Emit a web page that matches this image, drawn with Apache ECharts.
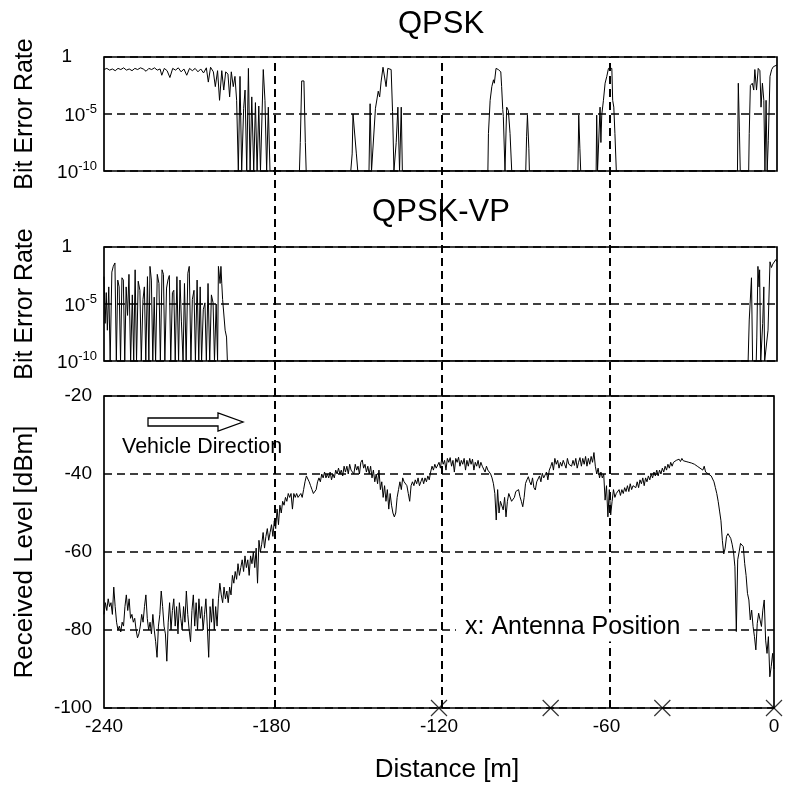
<!DOCTYPE html>
<html>
<head>
<meta charset="utf-8">
<script src="https://cdn.jsdelivr.net/npm/echarts@6/dist/echarts.min.js"></script>
<style>
  html, body { margin: 0; padding: 0; background: #fff; }
  #chart { width: 787px; height: 787px; }
</style>
</head>
<body>
<div id="chart"></div>
<script>
const FONT = '"Liberation Sans", Arial, sans-serif';

// distance axis [m]
const distanceMin = -240;
const distanceMax = 0;
const distanceInterval = 60;
// vertical guide lines [m]
const guideDistances = [-180, -120, -60];
// antenna positions along the road [m]
const antennaDistances = [-120, -80, -40, 0];

// QPSK bit error rate: [distance m, log10(BER)], -10 = no error observed
const qpskLogBer = [
  [-240,-1.1],[-239,-1.0],[-238,-1.15],[-237,-1.05],[-236,-1.2],[-235,-1.0],[-234,-1.1],[-233,-0.95],
  [-232,-1.15],[-231,-1.05],[-230,-1.2],[-229,-1.0],[-228,-1.1],[-227,-0.95],[-226,-1.05],[-225,-1.25],
  [-224,-1.0],[-223,-1.1],[-222,-0.95],[-221,-1.15],[-220,-1.05],[-219.4,-1.6],[-218.5,-1.0],[-217.5,-1.2],
  [-216.5,-1.8],[-215.5,-1.0],[-214.5,-1.15],[-213.5,-0.95],[-212.5,-1.3],[-211.5,-1.05],[-210.5,-1.6],
  [-209.5,-1.0],[-208.5,-1.2],[-207.5,-1.0],[-206.5,-1.3],[-205.5,-1.05],[-204.5,-1.4],[-203.5,-0.95],
  [-202.8,-2.2],[-202,-0.9],[-201,-1.3],[-200.3,-2.6],[-199.5,-1.2],[-198.8,-3.8],[-198,-1.2],[-197.3,-2.9],
  [-196.6,-1.3],[-195.8,-1.5],[-195.2,-3.5],[-194.6,-1.3],[-193.9,-2.6],[-193.3,-1.7],[-192.7,-3.8],
  [-192.1,-10],[-191.5,-1.7],[-190.9,-10],[-190.2,-4.5],[-189.7,-2.9],[-189.1,-10],[-188.5,-1.0],
  [-187.9,-10],[-187.3,-3.5],[-186.6,-10],[-186,-4.0],[-185.4,-10],[-184.8,-4.3],[-184.2,-10],
  [-183.2,-1.1],[-182.6,-3.8],[-182,-10],[-181.4,-4.4],[-180.8,-10],
  [-170.3,-10],[-170,-7.5],[-169.5,-2.1],[-168.7,-2.1],[-168.2,-7.5],[-167.9,-10],
  [-152,-10],[-151.5,-8.5],[-151.2,-5.0],[-150.5,-5.0],[-150,-8.5],[-149.5,-10],
  [-145.5,-10],[-145.1,-4.1],[-144.6,-10],[-144,-10],[-143.2,-4.5],[-142.6,-3.6],[-142.2,-3.0],
  [-141.7,-3.5],[-141.2,-2.2],[-140.5,-0.9],[-140,-1.0],[-139.4,-2.6],[-138.8,-1.0],[-138.2,-0.9],
  [-137.6,-1.1],[-137.1,-4.8],[-136.6,-10],[-135.8,-7.5],[-135.2,-4.4],[-134.6,-10],[-134,-4.4],[-133.6,-10],
  [-103.1,-10],[-102.9,-6.7],[-102.3,-3.8],[-101.7,-2.6],[-101.1,-2.0],[-100.8,-2.3],[-100.2,-1.0],
  [-99.4,-1.1],[-98.5,-1.3],[-98.2,-2.6],[-97.8,-4.6],[-97.6,-5.2],[-97,-10],[-96.4,-4.4],[-95.8,-4.7],
  [-95.2,-6.7],[-94.6,-10],
  [-89.6,-10],[-89.3,-7.0],[-89,-5.1],[-88.5,-8.0],[-88.3,-10],
  [-71,-10],[-70.7,-5.1],[-70.3,-8.0],[-70,-10],
  [-64.5,-10],[-64.3,-5.1],[-64,-10],[-63.4,-10],[-63.1,-4.4],[-62.8,-7.5],[-62.5,-5.1],[-61.9,-3.8],
  [-61.3,-2.3],[-60.7,-1.7],[-60.1,-1.0],[-59.5,-1.1],[-58.9,-1.0],[-58.6,-3.8],[-58.2,-4.4],[-57.8,-6.7],
  [-57.3,-10],
  [-14.1,-10],[-13.8,-2.3],[-13.4,-6.5],[-13.1,-10],
  [-10.1,-10],[-9.9,-6.7],[-9.5,-2.5],[-8.8,-2.3],[-8.3,-2.9],[-7.9,-1.1],[-7.3,-2.9],[-6.7,-1.0],
  [-6.1,-1.2],[-5.7,-4.4],[-5.2,-2.3],[-4.7,-3.8],[-4.3,-10],[-3.9,-3.8],[-3.5,-10],[-3.1,-7.3],
  [-2.5,-1.7],[-1.9,-1.1],[-1.3,-0.85],[-0.7,-1.0],[0,-0.7]
];

// QPSK-VP bit error rate: [distance m, log10(BER)], -10 = no error observed
const vpLogBer = [
  [-240,-2.6],[-239.6,-6.7],[-239.2,-4.0],[-238.8,-7.3],[-238.3,-3.5],[-237.8,-10],[-237.2,-2.2],
  [-236.7,-1.7],[-236.1,-1.4],[-235.6,-10],[-235.1,-2.9],[-234.6,-3.5],[-234.1,-10],[-233.6,-2.7],
  [-233.1,-2.9],[-232.6,-10],[-232.1,-3.5],[-231.6,-6.0],[-231.1,-2.4],[-230.5,-10],[-229.9,-4.2],
  [-229.4,-10],[-228.9,-2.0],[-228.4,-10],[-227.8,-3.0],[-227.2,-3.8],[-226.7,-10],[-226.1,-4.6],
  [-225.6,-3.5],[-225.1,-10],[-224.5,-2.6],[-224.0,-10],[-223.6,-1.7],[-223.1,-2.9],[-222.6,-10],
  [-222.1,-4.4],[-221.6,-10],[-221.0,-2.4],[-220.4,-3.2],[-219.9,-10],[-219.3,-2.0],[-218.8,-2.4],
  [-218.3,-10],[-217.7,-3.6],[-217.2,-2.9],[-216.7,-2.5],[-216.2,-10],[-215.6,-4.0],[-215.1,-3.8],
  [-214.6,-10],[-214.0,-2.6],[-213.4,-10],[-212.9,-2.9],[-212.4,-6.5],[-211.8,-10],[-211.3,-3.2],
  [-210.7,-10],[-210.1,-2.3],[-209.6,-1.7],[-209.0,-10],[-208.5,-4.6],[-207.9,-3.8],[-207.4,-10],
  [-206.8,-2.9],[-206.2,-10],[-205.7,-3.5],[-205.2,-10],[-204.6,-5.5],[-204.0,-4.9],[-203.5,-10],
  [-202.9,-3.2],[-202.3,-10],[-201.7,-4.2],[-201.1,-4.9],[-200.6,-10],[-200.0,-5.0],[-199.5,-10],
  [-199.2,-1.7],[-198.6,-3.2],[-198.3,-1.7],[-198,-3.2],[-197.7,-4.6],[-197.2,-4.6],[-196.8,-7.3],
  [-196.3,-7.9],[-196,-10],
  [-10.3,-10],[-9.9,-6.4],[-9.1,-2.7],[-8.7,-10],[-7.4,-10],[-7.2,-7.9],[-6.8,-1.7],[-6.4,-3.5],[-6.2,-2.0],
  [-5.8,-10],[-5.1,-6.7],[-4.7,-3.5],[-4.4,-10],[-3.2,-7.3],[-2.5,-1.3],[-2,-1.8],[-1.5,-1.5],[-1,-1.4],
  [-0.4,-1.1],[0,-1.3]
];

// received level every 0.5 m from -240 m to 0 m [dBm]
const levelStart = -240;
const levelStep = 0.5;
const receivedLevel = [
  -76, -73, -75, -72, -74, -73, -76, -69, -74, -78, -80, -79, -80.5, -78, -79, -74, -71, -75, -72, -77,
  -76, -78, -77, -80, -82, -81, -79, -76, -78, -74, -71, -77, -80, -78, -81, -76, -80, -83, -87, -79,
  -76, -70, -74, -79, -81, -88, -78, -73, -80, -75, -72, -79, -74, -81, -73, -77, -80, -74, -78, -70,
  -76, -80, -83, -75, -71, -79, -73, -80, -72, -77, -74, -80, -76, -72, -79, -87, -74, -78, -72, -80,
  -74, -79, -72, -68, -71, -73, -69, -72, -70, -73, -69, -71, -66, -68, -65, -67, -63, -66, -64, -62,
  -65, -61, -64, -62, -66, -61, -63, -60, -64, -59, -68, -57, -60, -58, -55, -59, -56, -54, -57, -55,
  -53, -56, -52, -54, -49, -53, -48, -50, -47, -48, -46, -47, -45, -46, -45, -49, -45, -46, -45, -46,
  -46, -45, -46, -44, -42, -40.5, -41, -42, -43, -44, -45, -45.5, -44, -42, -41, -42, -40, -41, -39.5, -41,
  -40, -41, -39.5, -41.5, -40, -41, -39, -40, -38.5, -40, -39, -40.5, -38, -39.5, -38, -40, -37.5, -39, -38.5, -40,
  -37.5, -39, -38, -40, -37, -36.4, -38.5, -37.5, -39.5, -38, -40, -38, -41, -39, -42, -40, -42.5, -39, -44, -42,
  -46, -43, -47, -44, -49, -45, -48, -50, -51, -50, -46, -44, -42, -44, -41, -42, -41.5, -43, -45, -47,
  -43, -42, -43, -41.5, -42.5, -41, -43, -42, -41, -42.5, -41, -42, -40.5, -41.5, -39.5, -38, -39, -37.5, -38.5, -38,
  -37, -38.5, -36, -37.5, -36.5, -39, -36, -37, -35.8, -38, -36.5, -39.5, -36, -37, -35.7, -38, -36.5, -37.5, -36, -39,
  -36.5, -38, -36, -37.5, -36.2, -39, -37, -38, -36.5, -38.5, -37, -38, -37.5, -39.5, -38, -39, -38.5, -40, -41, -42.5,
  -45, -51.8, -44, -50, -47, -47.5, -49.2, -46, -51, -47, -45, -44.5, -47, -47.5, -46, -44.5, -45, -44, -45.8, -47,
  -48.4, -46, -42.4, -41.5, -40.7, -42, -42.8, -41, -43.5, -44.1, -42, -41.5, -40.5, -42, -39.8, -41, -40.7, -39.5, -41.5, -39,
  -38.1, -37, -39, -36, -37.5, -36.5, -38.5, -37, -38, -36.5, -37.5, -38.5, -36, -37.5, -37, -38, -36.5, -37.8, -36, -38.5,
  -37, -35.8, -38, -36, -37.5, -35.5, -38, -36, -37.5, -35.5, -37, -34.5, -38, -40, -38.5, -41, -39.5, -41, -40, -46.7,
  -43, -51, -44, -50.5, -47, -44, -46, -45, -45.5, -44, -45.5, -44, -45, -43.5, -44.5, -43, -44.5, -42.5, -44, -43,
  -42.5, -43.5, -42, -43.5, -41.5, -42.5, -41, -43, -41, -42, -40.5, -41.5, -40, -41, -39.5, -40.5, -39, -40.5, -39, -40,
  -38.5, -39.5, -38, -39, -37.5, -38.5, -37, -38, -37, -37.5, -36.5, -37, -36.2, -36.8, -36, -36.6, -36.2, -36.8, -36.4, -37,
  -36.6, -37.2, -36.8, -37.5, -37, -38, -37.5, -38.5, -38, -39, -38, -39.5, -39, -40, -39.5, -40.5, -41, -42, -43.5, -45,
  -47, -49.5, -52, -57, -60.5, -59, -56, -55.3, -55.8, -56.5, -58, -60, -63.8, -80.4, -62, -60, -57.8, -57.5, -58.6, -63,
  -66, -70.6, -72.3, -77.4, -74.9, -79.1, -81.7, -85.1, -78.3, -75.7, -77.4, -79.1, -74.9, -72.3, -82.6, -86, -81.7, -92, -89.4, -86,
  -90
];

const levelData = receivedLevel.map((v, i) => [levelStart + i * levelStep, v]);

const dashed = { color: '#000', width: 1.5, type: [8, 5] };
const frame = { show: true, borderColor: '#000', borderWidth: 1.7, backgroundColor: 'transparent' };

function berLabel(v) {
  if (v === 0) return '{one|1}';
  return '{b|10}{s|' + v + '}';
}
const berLabelStyle = {
  color: '#000',
  margin: 7,
  formatter: berLabel,
  rich: {
    one: { fontSize: 19, fontFamily: FONT, color: '#000', padding: [0, 25, 0, 0] },
    b: { fontSize: 19, fontFamily: FONT, color: '#000', lineHeight: 22, verticalAlign: 'bottom' },
    s: { fontSize: 13, fontFamily: FONT, color: '#000', lineHeight: 13, verticalAlign: 'top' }
  }
};

function berYAxis(gridIndex) {
  return {
    gridIndex, type: 'value', min: -10, max: 0, interval: 5,
    axisLine: { show: false }, axisTick: { show: false },
    axisLabel: berLabelStyle,
    splitLine: { show: true, lineStyle: dashed },
    name: 'Bit Error Rate', nameLocation: 'middle', nameGap: 66,
    nameTextStyle: { fontSize: 25, fontFamily: FONT, color: '#000' }
  };
}
function hiddenXAxis(gridIndex) {
  return {
    gridIndex, type: 'value', min: distanceMin, max: distanceMax,
    axisLine: { show: false }, axisTick: { show: false },
    axisLabel: { show: false }, splitLine: { show: false }
  };
}

const chart = echarts.init(document.getElementById('chart'), null, { renderer: 'canvas' });

chart.setOption({
  animation: false,
  backgroundColor: '#fff',
  textStyle: { fontFamily: FONT },
  grid: [
    Object.assign({ left: 104, top: 57, width: 673, height: 114 }, frame),
    Object.assign({ left: 104, top: 247, width: 673, height: 114 }, frame),
    Object.assign({ left: 104, top: 396, width: 670, height: 312 }, frame),
    { left: 107, top: 57, width: 670, height: 651, show: false }
  ],
  xAxis: [
    hiddenXAxis(0),
    hiddenXAxis(1),
    {
      gridIndex: 2, type: 'value', min: distanceMin, max: distanceMax, interval: distanceInterval,
      axisLine: { show: false }, axisTick: { show: false },
      axisLabel: { fontSize: 19, fontFamily: FONT, color: '#000', margin: 9 },
      splitLine: { show: false },
      name: 'Distance [m]', nameLocation: 'middle', nameGap: 49,
      nameTextStyle: { fontSize: 26, fontFamily: FONT, color: '#000', padding: [0, 0, 0, 16] }
    },
    hiddenXAxis(3)
  ],
  yAxis: [
    berYAxis(0),
    berYAxis(1),
    {
      gridIndex: 2, type: 'value', min: -100, max: -20, interval: 20,
      axisLine: { show: false }, axisTick: { show: false },
      axisLabel: { fontSize: 19, fontFamily: FONT, color: '#000', margin: 12 },
      splitLine: { show: true, lineStyle: dashed },
      name: 'Received Level [dBm]', nameLocation: 'middle', nameGap: 66,
      nameTextStyle: { fontSize: 26, fontFamily: FONT, color: '#000' }
    },
    {
      gridIndex: 3, type: 'value', min: 0, max: 1,
      axisLine: { show: false }, axisTick: { show: false },
      axisLabel: { show: false }, splitLine: { show: false }
    }
  ],
  series: [
    {
      name: 'QPSK', type: 'line', xAxisIndex: 0, yAxisIndex: 0,
      data: qpskLogBer, showSymbol: false, symbol: 'none',
      lineStyle: { color: '#000', width: 1 }
    },
    {
      name: 'QPSK-VP', type: 'line', xAxisIndex: 1, yAxisIndex: 1,
      data: vpLogBer, showSymbol: false, symbol: 'none',
      lineStyle: { color: '#000', width: 1 }
    },
    {
      name: 'Received Level', type: 'line', xAxisIndex: 2, yAxisIndex: 2,
      data: levelData, showSymbol: false, symbol: 'none',
      lineStyle: { color: '#000', width: 1 }
    },
    {
      name: 'Antenna', type: 'scatter', xAxisIndex: 2, yAxisIndex: 2,
      data: antennaDistances.map(d => [d, -100]),
      symbol: 'path://M0,0L16,16M16,0L0,16', symbolSize: 16, clip: false, z: 5,
      itemStyle: { color: 'rgba(0,0,0,0)', borderColor: '#000', borderWidth: 1.2 }
    },
    {
      name: 'Guides', type: 'line', xAxisIndex: 3, yAxisIndex: 3, data: [], z: 6,
      markLine: {
        silent: true, symbol: ['none', 'none'], label: { show: false },
        lineStyle: { color: '#000', width: 2, type: [8, 5] },
        data: guideDistances.map(d => ({ xAxis: d }))
      }
    }
  ],
  graphic: [
    {
      type: 'text', z: 10,
      style: { text: 'QPSK', x: 441, y: 24, font: '31px ' + FONT, fill: '#000',
        align: 'center', verticalAlign: 'middle', textAlign: 'center', textVerticalAlign: 'middle' }
    },
    {
      type: 'text', z: 10,
      style: { text: 'QPSK-VP', x: 441, y: 212, font: '31px ' + FONT, fill: '#000',
        align: 'center', verticalAlign: 'middle', textAlign: 'center', textVerticalAlign: 'middle' }
    },
    {
      type: 'polygon', z: 10,
      shape: { points: [[148, 418], [218, 418], [218, 413], [243, 422], [218, 431], [218, 426], [148, 426]] },
      style: { fill: '#fff', stroke: '#000', lineWidth: 1.3 }
    },
    {
      type: 'text', z: 10,
      style: { text: 'Vehicle Direction', x: 122, y: 447, font: '21.5px ' + FONT, fill: '#000',
        align: 'left', verticalAlign: 'middle', textAlign: 'left', textVerticalAlign: 'middle' }
    },
    {
      type: 'text', z: 10,
      style: { text: 'x: Antenna Position', x: 456, y: 627, font: '25px ' + FONT, fill: '#000',
        align: 'left', verticalAlign: 'middle', textAlign: 'left', textVerticalAlign: 'middle',
        backgroundColor: '#fff', padding: [2, 9, 2, 9] }
    }
  ]
});
</script>
</body>
</html>
